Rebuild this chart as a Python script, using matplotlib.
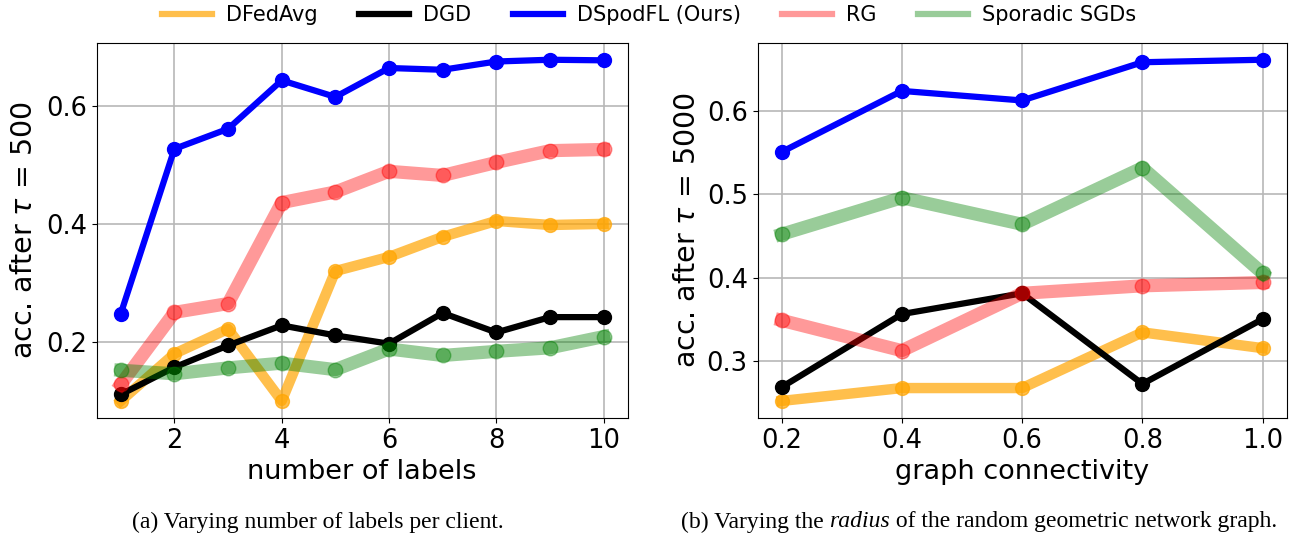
import matplotlib
matplotlib.use("Agg")
import matplotlib.pyplot as plt
from matplotlib.lines import Line2D

# ---- data ----
labels_x = [1, 2, 3, 4, 5, 6, 7, 8, 9, 10]
a_dfedavg = [0.100, 0.180, 0.222, 0.100, 0.320, 0.344, 0.378, 0.405, 0.398, 0.400]
a_dgd = [0.111, 0.157, 0.194, 0.228, 0.211, 0.197, 0.249, 0.216, 0.242, 0.242]
a_dspodfl = [0.248, 0.527, 0.561, 0.643, 0.615, 0.664, 0.661, 0.675, 0.678, 0.677]
a_rg = [0.128, 0.250, 0.265, 0.436, 0.454, 0.489, 0.482, 0.504, 0.524, 0.526]
a_sporadic = [0.152, 0.146, 0.156, 0.164, 0.153, 0.188, 0.177, 0.184, 0.190, 0.209]

conn_x = [0.2, 0.4, 0.6, 0.8, 1.0]
b_dfedavg = [0.2515, 0.267, 0.267, 0.334, 0.315]
b_dgd = [0.268, 0.356, 0.381, 0.272, 0.350]
b_dspodfl = [0.551, 0.6245, 0.613, 0.659, 0.662]
b_rg = [0.3485, 0.312, 0.381, 0.390, 0.394]
b_sporadic = [0.452, 0.496, 0.464, 0.532, 0.405]

series_names = ["DFedAvg", "DGD", "DSpodFL (Ours)", "RG", "Sporadic SGDs"]

styles = [
    dict(color="orange", alpha=0.7, lw=7.5, ms=10),
    dict(color="black", alpha=1.0, lw=4.5, ms=10),
    dict(color="blue", alpha=1.0, lw=4.5, ms=10),
    dict(color="red", alpha=0.4, lw=9.5, ms=10.5),
    dict(color="green", alpha=0.4, lw=9.5, ms=10.5),
]

fig = plt.figure(figsize=(12.94, 5.43), dpi=100)
ax1 = fig.add_axes([0.0747, 0.2302, 0.4104, 0.6912])
ax2 = fig.add_axes([0.5854, 0.2302, 0.4090, 0.6912])

for data, st, name in zip([a_dfedavg, a_dgd, a_dspodfl, a_rg, a_sporadic], styles, series_names):
    ax1.plot(labels_x, data, marker="o", color=st["color"], alpha=st["alpha"],
             lw=st["lw"], ms=st["ms"], label=name)
for data, st in zip([b_dfedavg, b_dgd, b_dspodfl, b_rg, b_sporadic], styles):
    ax2.plot(conn_x, data, marker="o", color=st["color"], alpha=st["alpha"],
             lw=st["lw"], ms=st["ms"])

ax1.set_xticks([2, 4, 6, 8, 10])
ax1.set_yticks([0.2, 0.4, 0.6])
ax1.set_xlabel("number of labels", fontsize=19.5, labelpad=4)
ax1.set_ylabel(r"acc. after $\tau$ = 500", fontsize=20.5, labelpad=6)

ax2.set_xticks(conn_x)
ax2.set_xticklabels([f"{v:.1f}" for v in conn_x])
ax2.set_yticks([0.3, 0.4, 0.5, 0.6])
ax2.set_xlabel("graph connectivity", fontsize=19.5, labelpad=4)
ax2.set_ylabel(r"acc. after $\tau$ = 5000", fontsize=20.5)

for ax in (ax1, ax2):
    ax.grid(True, color="#b8b8b8", lw=1.2)
    ax.set_axisbelow(True)
    ax.tick_params(labelsize=18.5, length=3.5)

leg_handles = [Line2D([], [], color=st["color"], alpha=st["alpha"], lw=4.5) for st in styles]
fig.legend(leg_handles, series_names, loc="center", ncol=5, frameon=False,
           fontsize=15, bbox_to_anchor=(0.5016, 0.972), handlelength=2.4,
           handletextpad=0.67, columnspacing=2.0)

# captions (serif, with italic word)
cap_fs = 17
cap_y = 0.0387
fig.text(0.2457, cap_y, "(a) Varying number of labels per client.", ha="center", va="center",
         fontsize=cap_fs, family="Liberation Serif")

parts = [("(b) Varying the ", "normal"), ("radius", "italic"),
         (" of the random geometric network graph.", "normal")]
renderer = fig.canvas.get_renderer()
texts = []
widths = []
for s, style in parts:
    t = fig.text(0, cap_y, s, ha="left", va="center", fontsize=cap_fs,
                 family="Liberation Serif", style=style)
    texts.append(t)
    widths.append(t.get_window_extent(renderer).width / fig.bbox.width)
total = sum(widths)
x = 0.7566 - total / 2
for t, w in zip(texts, widths):
    t.set_x(x)
    x += w

fig.savefig("out.png", dpi=100)
